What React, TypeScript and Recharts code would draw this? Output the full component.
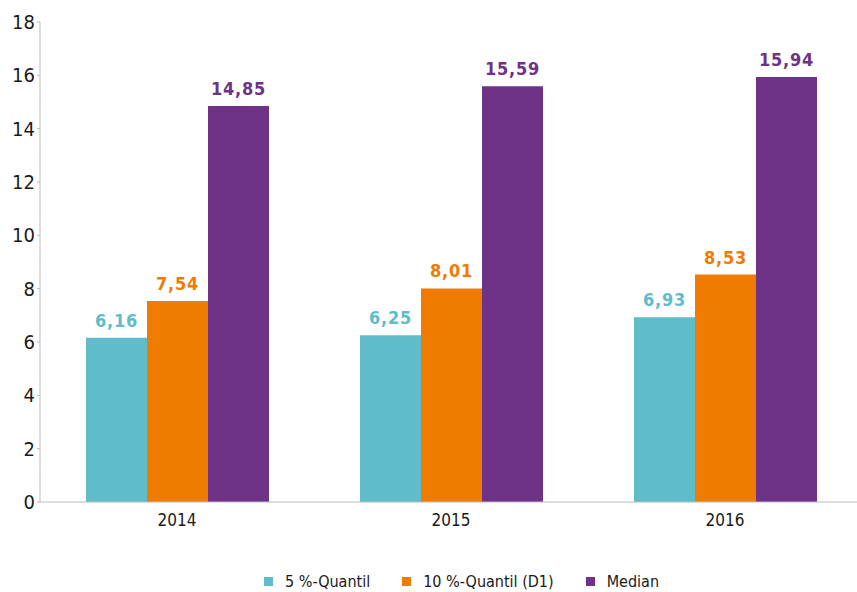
import { BarChart, Bar, XAxis, YAxis, LabelList } from "recharts";

const years = ["2014", "2015", "2016"];
const q5 = [6.16, 6.25, 6.93];
const q10 = [7.54, 8.01, 8.53];
const median = [14.85, 15.59, 15.94];
const yTicks = [0, 2, 4, 6, 8, 10, 12, 14, 16, 18];

const series = [
  { key: "q5", name: "5 %-Quantil", color: "#5FBCCB" },
  { key: "q10", name: "10 %-Quantil (D1)", color: "#EF7B00" },
  { key: "median", name: "Median", color: "#6E3287" },
];

const data = years.map((year, i) => ({
  year,
  q5: q5[i],
  q10: q10[i],
  median: median[i],
}));

const FONT = "'DejaVu Sans Condensed', 'Liberation Sans Narrow', sans-serif";

const fmt = (v: any) => Number(v).toFixed(2).replace(".", ",");

export default function App() {
  return (
    <div
      style={{
        position: "absolute",
        left: 0,
        top: 0,
        width: 857,
        height: 592,
        overflow: "hidden",
        background: "#fff",
        fontFamily: FONT,
      }}
    >
      <BarChart
        width={866}
        height={540}
        data={data}
        margin={{ top: 22, right: 4, left: 0, bottom: 0 }}
        barGap={0}
        barCategoryGap={45}
      >
        <YAxis
          width={40}
          domain={[0, 18]}
          ticks={yTicks}
          interval={0}
          stroke="#BBBBBB"
          tickSize={3}
          tick={{ fill: "#1a1a1a", fontSize: 20, fontFamily: FONT }}
        />
        <XAxis
          dataKey="year"
          stroke="#BBBBBB"
          tickLine={false}
          height={38}
          tick={{ fill: "#1a1a1a", fontSize: 17, fontFamily: FONT, dy: 4 }}
        />
        {series.map((s) => (
          <Bar
            key={s.key}
            dataKey={s.key}
            name={s.name}
            fill={s.color}
            barSize={61}
            isAnimationActive={false}
          >
            <LabelList
              dataKey={s.key}
              position="top"
              offset={11}
              formatter={fmt}
              style={{
                fill: s.color,
                fontSize: 18,
                fontWeight: "bold",
                fontFamily: FONT,
                letterSpacing: 0.8,
              }}
            />
          </Bar>
        ))}
      </BarChart>
      <div
        style={{
          position: "absolute",
          top: 572,
          left: 0,
          width: 857,
          display: "flex",
          justifyContent: "center",
          paddingLeft: 66,
          boxSizing: "border-box",
          gap: 32,
          fontSize: 16,
          color: "#1a1a1a",
        }}
      >
        {series.map((s) => (
          <div key={s.key} style={{ display: "flex", alignItems: "center" }}>
            <span
              style={{
                display: "inline-block",
                width: 9,
                height: 9,
                background: s.color,
                marginRight: 12,
              }}
            />
            <span>{s.name}</span>
          </div>
        ))}
      </div>
    </div>
  );
}
